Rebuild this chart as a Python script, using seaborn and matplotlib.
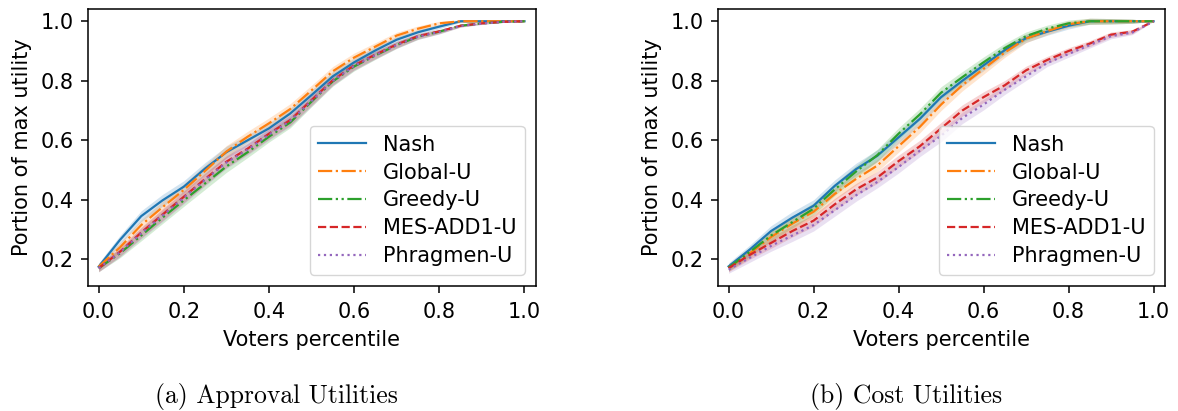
import numpy as np
import pandas as pd
import matplotlib
matplotlib.use("Agg")
import matplotlib.pyplot as plt
import seaborn as sns

# ---- data -------------------------------------------------------------
percentile = [0.00, 0.05, 0.10, 0.15, 0.20, 0.25, 0.30, 0.35, 0.40, 0.45, 0.50,
              0.55, 0.60, 0.65, 0.70, 0.75, 0.80, 0.85, 0.90, 0.95, 1.00]

methods = ["Nash", "Global-U", "Greedy-U", "MES-ADD1-U", "Phragmen-U"]

# (a) Approval utilities
nash_a = [0.175, 0.265, 0.345, 0.398, 0.444, 0.505, 0.560, 0.600, 0.640, 0.690, 0.752,
          0.815, 0.862, 0.902, 0.938, 0.963, 0.982, 1.000, 1.000, 1.000, 1.000]
global_a = [0.175, 0.240, 0.315, 0.375, 0.433, 0.497, 0.562, 0.612, 0.657, 0.705, 0.768,
            0.832, 0.878, 0.915, 0.952, 0.975, 0.993, 1.000, 1.000, 1.000, 1.000]
greedy_a = [0.170, 0.220, 0.280, 0.340, 0.398, 0.455, 0.512, 0.560, 0.612, 0.660, 0.730,
            0.798, 0.848, 0.885, 0.920, 0.948, 0.965, 0.985, 0.993, 0.998, 1.000]
mes_a = [0.170, 0.225, 0.290, 0.350, 0.410, 0.470, 0.528, 0.572, 0.622, 0.668, 0.735,
         0.802, 0.852, 0.888, 0.922, 0.950, 0.966, 0.985, 0.993, 0.998, 1.000]
phrag_a = [0.170, 0.223, 0.287, 0.347, 0.407, 0.467, 0.525, 0.569, 0.619, 0.665, 0.732,
           0.800, 0.850, 0.886, 0.920, 0.948, 0.964, 0.984, 0.992, 0.998, 1.000]
band_a = [0.012, 0.015, 0.018, 0.020, 0.020, 0.020, 0.020, 0.018, 0.018, 0.018, 0.017,
          0.016, 0.015, 0.013, 0.011, 0.009, 0.007, 0.004, 0.003, 0.002, 0.000]

# (b) Cost utilities
nash_c = [0.176, 0.233, 0.295, 0.340, 0.380, 0.447, 0.503, 0.548, 0.610, 0.672, 0.745,
          0.800, 0.852, 0.903, 0.943, 0.965, 0.985, 1.000, 1.000, 1.000, 1.000]
global_c = [0.172, 0.220, 0.275, 0.320, 0.360, 0.420, 0.470, 0.515, 0.580, 0.645, 0.720,
            0.785, 0.840, 0.895, 0.942, 0.967, 0.990, 1.000, 1.000, 1.000, 1.000]
greedy_c = [0.172, 0.225, 0.280, 0.325, 0.370, 0.435, 0.495, 0.550, 0.622, 0.687, 0.760,
            0.812, 0.862, 0.910, 0.950, 0.975, 0.993, 1.000, 1.000, 1.000, 1.000]
mes_c = [0.170, 0.215, 0.255, 0.295, 0.330, 0.385, 0.435, 0.475, 0.530, 0.580, 0.640,
         0.700, 0.745, 0.785, 0.835, 0.870, 0.900, 0.925, 0.955, 0.965, 1.000]
phrag_c = [0.165, 0.205, 0.245, 0.280, 0.315, 0.365, 0.415, 0.460, 0.510, 0.565, 0.615,
           0.675, 0.720, 0.770, 0.815, 0.860, 0.890, 0.920, 0.950, 0.962, 1.000]
band_c = [0.012, 0.015, 0.018, 0.020, 0.020, 0.020, 0.020, 0.020, 0.020, 0.020, 0.020,
          0.019, 0.018, 0.016, 0.014, 0.012, 0.011, 0.010, 0.009, 0.007, 0.000]

captions = ["(a) Approval Utilities", "(b) Cost Utilities"]
x_label = "Voters percentile"
y_label = "Portion of max utility"

# ---- styling -------------------------------------------------------------
colors = sns.color_palette("tab10", 5)
linestyles = ["-", (0, (6.4, 1.6, 1.0, 1.6)), (0, (6.4, 1.6, 1.0, 1.6, 1.0, 1.6)),
              (0, (3.7, 1.6)), (0, (1.0, 1.65))]

FS = 15
fig = plt.figure(figsize=(11.78, 4.11), dpi=100)
ax_a = fig.add_axes([0.0747, 0.304, 0.3803, 0.674])
ax_b = fig.add_axes([0.6095, 0.304, 0.3795, 0.674])

panels = [
    (ax_a, [nash_a, global_a, greedy_a, mes_a, phrag_a], band_a),
    (ax_b, [nash_c, global_c, greedy_c, mes_c, phrag_c], band_c),
]

for ax, series, band in panels:
    x = np.array(percentile)
    b = np.array(band)
    for name, vals, col, ls in zip(methods, series, colors, linestyles):
        v = np.array(vals)
        ax.fill_between(x, v - b, v + b, color=col, alpha=0.2, linewidth=0)
        sns.lineplot(x=x, y=v, ax=ax, color=col, label=name, linestyle=ls,
                     linewidth=1.6, errorbar=None)
    ax.set_xlim(-0.025, 1.027)
    ax.set_ylim(0.110, 1.041)
    ax.set_xticks([0.0, 0.2, 0.4, 0.6, 0.8, 1.0])
    ax.set_yticks([0.2, 0.4, 0.6, 0.8, 1.0])
    ax.tick_params(labelsize=FS, length=5, width=1.1)
    ax.tick_params(axis="x", pad=6.5)
    ax.tick_params(axis="y", pad=5.5)
    for s in ax.spines.values():
        s.set_linewidth(1.1)
    ax.set_xlabel(x_label, fontsize=FS, labelpad=6)
    ax.set_ylabel(y_label, fontsize=FS, labelpad=6)
    ax.legend(loc="lower right", fontsize=15, handlelength=2.3,
              labelspacing=0.38, borderaxespad=0.55)

fig.text(276 / 1178, 1 - 403 / 411, captions[0], ha="center", va="baseline",
         fontsize=18.5, family=["cmr10", "DejaVu Serif"])
fig.text(906 / 1178, 1 - 403 / 411, captions[1], ha="center", va="baseline",
         fontsize=18.5, family=["cmr10", "DejaVu Serif"])

fig.savefig("out.png", dpi=100)
